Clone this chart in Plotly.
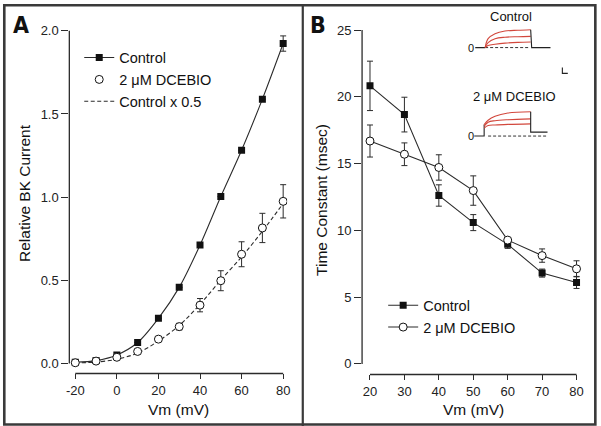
import plotly.graph_objects as go

W, H = 601, 426

# ---------------- Data ----------------
# Panel A: relative BK current vs Vm
vm_a = [-20, -10, 0, 10, 20, 30, 40, 50, 60, 70, 80]
vm_a_labels = ["-20", "0", "20", "40", "60", "80"]
control_a = [0.008, 0.018, 0.052, 0.127, 0.272, 0.458, 0.712, 1.004, 1.282, 1.589, 1.923]
control_a_err = [0.0, 0.0, 0.0, 0.0, 0.0, 0.0, 0.0, 0.0, 0.0, 0.0, 0.046]
dcebio_a = [0.005, 0.015, 0.038, 0.073, 0.147, 0.222, 0.351, 0.498, 0.657, 0.815, 0.975]
dcebio_a_err = [0.0, 0.0, 0.0, 0.0, 0.012, 0.02, 0.04, 0.06, 0.075, 0.088, 0.1]
control_half_a = [0.004, 0.009, 0.026, 0.063, 0.136, 0.229, 0.356, 0.502, 0.641, 0.795, 0.962]

# Panel B: time constant vs Vm
vm_b = [20, 30, 40, 50, 60, 70, 80]
control_b = [20.82, 18.67, 12.61, 10.58, 8.95, 6.8, 6.1]
control_b_err = [1.85, 1.3, 0.8, 0.6, 0.3, 0.3, 0.45]
dcebio_b = [16.69, 15.7, 14.71, 12.98, 9.27, 8.11, 7.12]
dcebio_b_err = [1.2, 0.85, 0.95, 1.1, 0.2, 0.5, 0.6]

# Inset current traces (time, arbitrary units; current, arbitrary units)
ctl_t_pre = [7, 17]
ctl_i_pre = [0, 0]
ctl_t = [17, 20, 27, 37, 50, 63]
ctl_i1 = [0, 9, 14, 16.7, 17.5, 18]
ctl_i2 = [0, 5, 9, 10.5, 11, 11.3]
ctl_i3 = [0, 2, 3.3, 4.5, 5.3, 5.7]
ctl_t_off = [63, 64, 83]
ctl_i_off = [18, 0, 0]
ctl_t_zero = [17, 62]

dce_t_pre = [6, 16, 16]
dce_i_pre = [0, 0, 11.6]
dce_t = [16, 20, 27, 40, 63]
dce_i1 = [11.6, 16, 20, 23.3, 24.6]
dce_i2 = [10, 14, 15.5, 16.5, 17.3]
dce_i3 = [8, 10.6, 11.2, 11.8, 12.3]
dce_t_off = [63, 63, 80]
dce_i_off = [24.6, 4, 4]
dce_t_zero = [20, 80]

# ---------------- Styles ----------------
FONT = "Liberation Sans, Arial, sans-serif"
INK = "#2b2b2b"
RED = "#d2473c"


def px(x):
    return x / W


def py(y):
    return 1 - y / H


fig = go.Figure()

# Panel A
fig.add_trace(go.Scatter(
    x=vm_a, y=control_a, name="Control", mode="lines+markers",
    line=dict(color=INK, width=1.1, shape="spline", smoothing=0.9),
    marker=dict(symbol="square", size=7, color="#111"),
    error_y=dict(type="data", array=control_a_err, color=INK, thickness=1, width=3),
    xaxis="x", yaxis="y", legend="legend", legendrank=1))
fig.add_trace(go.Scatter(
    x=vm_a, y=control_half_a, name="Control x 0.5", mode="lines",
    line=dict(color=INK, width=1.1, dash="4px,2.5px", shape="spline", smoothing=0.9),
    xaxis="x", yaxis="y", legend="legend", legendrank=3))
fig.add_trace(go.Scatter(
    x=vm_a, y=dcebio_a, name="2 μM DCEBIO", mode="markers",
    marker=dict(symbol="circle", size=8, color="white", line=dict(color="#111", width=1)),
    error_y=dict(type="data", array=dcebio_a_err, color=INK, thickness=1, width=3),
    xaxis="x", yaxis="y", legend="legend", legendrank=2))

# Panel B
fig.add_trace(go.Scatter(
    x=vm_b, y=control_b, name="Control", mode="lines+markers",
    line=dict(color=INK, width=1.1),
    marker=dict(symbol="square", size=7, color="#111"),
    error_y=dict(type="data", array=control_b_err, color=INK, thickness=1, width=3),
    xaxis="x2", yaxis="y2", legend="legend2", legendrank=1))
fig.add_trace(go.Scatter(
    x=vm_b, y=dcebio_b, name="2 μM DCEBIO", mode="lines+markers",
    line=dict(color=INK, width=1.1),
    marker=dict(symbol="circle", size=8, color="white", line=dict(color="#111", width=1)),
    error_y=dict(type="data", array=dcebio_b_err, color=INK, thickness=1, width=3),
    xaxis="x2", yaxis="y2", legend="legend2", legendrank=2))

# Insets
def inset_line(x, y, xa, ya, color, dash="solid", width=1.1, shape="linear"):
    fig.add_trace(go.Scatter(x=x, y=y, mode="lines", showlegend=False, hoverinfo="skip",
                             line=dict(color=color, width=width, dash=dash, shape=shape),
                             xaxis=xa, yaxis=ya))


inset_line(ctl_t_zero, [0, 0], "x3", "y3", "#333", dash="3px,2px", width=1)
inset_line(ctl_t_pre, ctl_i_pre, "x3", "y3", "#222")
for tr in (ctl_i1, ctl_i2, ctl_i3):
    inset_line(ctl_t, tr, "x3", "y3", RED, shape="spline")
inset_line(ctl_t_off, ctl_i_off, "x3", "y3", "#222")

inset_line(dce_t_zero, [0, 0], "x4", "y4", "#333", dash="3px,2px", width=1)
inset_line(dce_t_pre, dce_i_pre, "x4", "y4", "#222")
for tr in (dce_i1, dce_i2, dce_i3):
    inset_line(dce_t, tr, "x4", "y4", RED, shape="spline")
inset_line(dce_t_off, dce_i_off, "x4", "y4", "#222")

# ---------------- Axes ----------------
tickfont = dict(family=FONT, size=13, color="#222")
common = dict(showgrid=False, zeroline=False, showline=False, ticks="outside",
              tickcolor=INK, tickwidth=1.2, tickfont=tickfont)

fig.update_layout(
    xaxis=dict(domain=[px(67), px(287)], range=[-22.857, 81.905], anchor="y",
               tickmode="array", tickvals=[-20, 0, 20, 40, 60, 80], ticktext=vm_a_labels,
               ticklen=5, **common),
    yaxis=dict(domain=[py(373), py(23)], range=[-0.0595, 2.0238], anchor="x",
               tickmode="array", tickvals=[0, 0.5, 1.0, 1.5, 2.0],
               ticktext=["0.0", "0.5", "1.0", "1.5", "2.0"], ticklen=7, **common),
    xaxis2=dict(domain=[px(362.7), px(587)], range=[17.70, 82.21], anchor="y2",
                tickmode="array", tickvals=[20, 30, 40, 50, 60, 70, 80], ticklen=5, **common),
    yaxis2=dict(domain=[py(374), py(23)], range=[-0.794, 25.245], anchor="x2",
                tickmode="array", tickvals=[0, 5, 10, 15, 20, 25], ticklen=7, **common),
    xaxis3=dict(domain=[px(470), px(560)], range=[0, 90], anchor="y3", visible=False),
    yaxis3=dict(domain=[py(50), py(20)], range=[-6, 24], anchor="x3", visible=False),
    xaxis4=dict(domain=[px(470), px(560)], range=[0, 90], anchor="y4", visible=False),
    yaxis4=dict(domain=[py(140), py(100)], range=[-6.7, 33.3], anchor="x4", visible=False),
)

# Axis lines (detached style) drawn on the library scales
shapes = [
    dict(type="line", xref="x", yref="y domain", x0=-20, x1=80, y0=0, y1=0,
         line=dict(color=INK, width=1.3)),
    dict(type="line", xref="x domain", yref="y", x0=0, x1=0, y0=0, y1=2.0,
         line=dict(color=INK, width=1.3)),
    dict(type="line", xref="x2", yref="y2 domain", x0=20, x1=80, y0=0, y1=0,
         line=dict(color=INK, width=1.3)),
    dict(type="line", xref="x2 domain", yref="y2", x0=0, x1=0, y0=0, y1=25,
         line=dict(color=INK, width=1.3)),
    # frame and divider
    dict(type="rect", xref="paper", yref="paper", x0=px(1.3), x1=px(598.3), y0=py(424.5), y1=py(1.3),
         line=dict(color="#3a3a3a", width=2.6)),
    dict(type="line", xref="paper", yref="paper", x0=px(302.8), x1=px(302.8), y0=0, y1=1,
         line=dict(color="#3a3a3a", width=2.2)),
    # scale bar in inset
    dict(type="path", xref="paper", yref="paper",
         path=f"M {px(565)} {py(64)} L {px(565)} {py(70)} L {px(570.5)} {py(70)}",
         line=dict(color="#222", width=1.1)),
]

ann = []


def add_text(text, x, y, size, angle=0, bold=False, family=FONT, xanchor="center"):
    ann.append(dict(text=f"<b>{text}</b>" if bold else text, x=px(x), y=py(y),
                    xref="paper", yref="paper", showarrow=False, textangle=angle,
                    xanchor=xanchor, yanchor="middle",
                    font=dict(family=family, size=size, color="#111")))


LETTER_FONT = "DejaVu Sans Condensed, Liberation Sans Narrow, Arial Narrow, Liberation Sans, sans-serif"
add_text("A", 18, 21, 23, bold=True, family=LETTER_FONT)
add_text("B", 318, 21, 23, bold=True, family=LETTER_FONT)
add_text("Relative BK Current", 21, 191, 15.5, angle=-90)
add_text("Time Constant (msec)", 321, 198, 15.5, angle=-90)
add_text("Vm (mV)", 177, 409, 15.5)
add_text("Vm (mV)", 475, 409, 15.5)
add_text("Control", 513, 13, 13)
add_text("2 μM DCEBIO", 517, 93, 13)
add_text("0", 473, 44, 11)
add_text("0", 473, 133, 11)

legend_common = dict(font=dict(family=FONT, size=14.5, color="#111"), bgcolor="rgba(0,0,0,0)",
                     borderwidth=0, itemwidth=30, tracegroupgap=0, xanchor="left", yanchor="top",
                     traceorder="normal")

fig.update_layout(
    width=W, height=H, margin=dict(l=0, r=0, t=0, b=0),
    paper_bgcolor="white", plot_bgcolor="white",
    shapes=shapes, annotations=ann,
    legend=dict(x=px(77), y=py(38), **legend_common),
    legend2=dict(x=px(384), y=py(288), **legend_common),
    font=dict(family=FONT),
)

fig.write_html("out.html", config={"displayModeBar": False},
               post_script="document.body.style.margin='0';document.body.style.overflow='hidden';")
